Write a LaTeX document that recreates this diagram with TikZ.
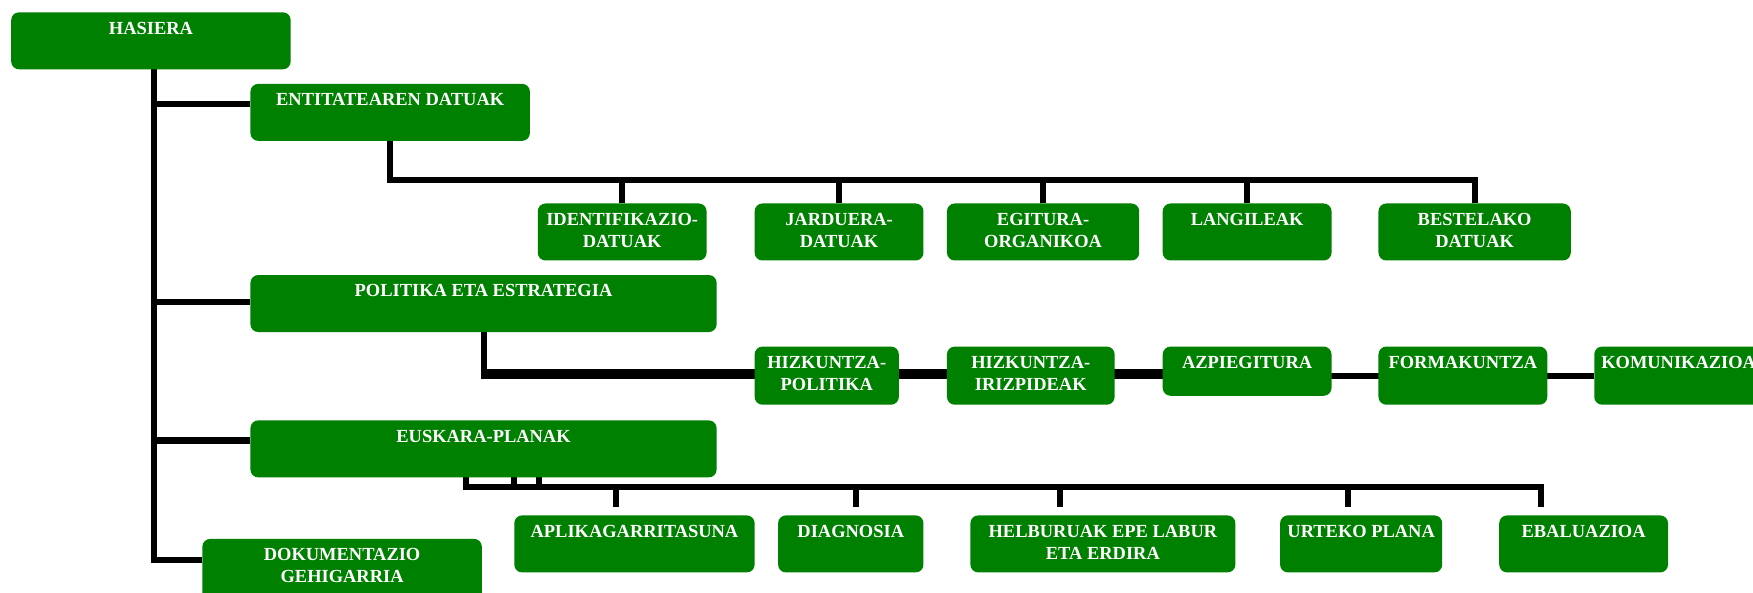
\documentclass[tikz,border=0pt]{standalone}
\usepackage{fontspec}
\setmainfont{Liberation Serif}
\pgfdeclarelayer{bg}
\pgfsetlayers{bg,main}
\definecolor{boxgreen}{RGB}{0,128,0}
\tikzset{
  gbox/.style={draw=none, fill=boxgreen, rounded corners=7pt, inner sep=0pt, outer sep=0pt},
  gtxt/.style={inner sep=0pt, outer sep=0pt, align=center, text=white,
    font=\fontsize{16.5}{20}\selectfont\bfseries},
  ln/.style={draw=black, line width=5.4pt}
}
\newcommand\mybox[6]{%
  \node[gbox, minimum width={(#4-#2)*1pt}, minimum height={(#5-#3)*1pt}, anchor=north west] (#1) at (#2,#3) {};
  \node[gtxt, anchor=north] (#1t) at ([yshift=-8.5pt]#1.north) {#6};
}
\begin{document}
\begin{tikzpicture}[x=1pt,y=-1pt]
\useasboundingbox (0,0) rectangle (1568,530);
\clip (0,0) rectangle (1568,530);
% boxes
\mybox{hasiera}{10}{11}{260}{62}{HASIERA}
\mybox{ent}{224}{75}{474}{126}{ENTITATEAREN DATUAK}
\mybox{ident}{481}{182}{632}{233}{IDENTIFIKAZIO-\\DATUAK}
\mybox{jard}{675}{182}{826}{233}{JARDUERA-\\DATUAK}
\mybox{egit}{847}{182}{1019}{233}{EGITURA-\\ORGANIKOA}
\mybox{lang}{1040}{182}{1191}{233}{LANGILEAK}
\mybox{best}{1233}{182}{1405}{233}{BESTELAKO\\DATUAK}
\mybox{pol}{224}{246}{641}{297}{POLITIKA ETA ESTRATEGIA}
\mybox{hpol}{675}{310}{804}{362}{HIZKUNTZA-\\POLITIKA}
\mybox{hiriz}{847}{310}{997}{362}{HIZKUNTZA-\\IRIZPIDEAK}
\mybox{azp}{1040}{310}{1191}{354}{AZPIEGITURA}
\mybox{form}{1233}{310}{1384}{362}{FORMAKUNTZA}
\mybox{kom}{1426}{310}{1577}{362}{KOMUNIKAZIOA}
\mybox{eusk}{224}{376}{641}{427}{EUSKARA-PLANAK}
\mybox{dok}{181}{482}{431}{545}{DOKUMENTAZIO\\GEHIGARRIA}
\mybox{aplik}{460}{461}{675}{512}{APLIKAGARRITASUNA}
\mybox{diag}{696}{461}{826}{512}{DIAGNOSIA}
\mybox{helb}{868}{461}{1105}{512}{HELBURUAK EPE LABUR\\ETA ERDIRA}
\mybox{urte}{1145}{461}{1290}{512}{URTEKO PLANA}
\mybox{ebal}{1341}{461}{1492}{512}{EBALUAZIOA}
% junction coordinates
\coordinate (tx) at (138,0);
\coordinate (b1) at (224,93);
\coordinate (b2) at (224,270);
\coordinate (b3) at (224,394);
\coordinate (b4) at (181,500.5);
\coordinate (eb) at (0,161);
\coordinate (pa) at (0,333);
\coordinate (pb) at (0,336.5);
\coordinate (ub) at (0,436);
\coordinate (d1) at (551,453.5);
\coordinate (d2) at (766,453.5);
\coordinate (d3) at (948,453.5);
\coordinate (d4) at (1206,453.5);
\coordinate (d5) at (1378,453.5);
\coordinate (u1) at (417,0);
\coordinate (u2) at (460,0);
\coordinate (u3) at (482,0);
\begin{pgfonlayer}{bg}
% trunk
\draw[ln] (hasiera.south -| tx) -- (tx |- b4) -- (b4);
\draw[ln] (tx |- b1) -- (b1);
\draw[ln] (tx |- b2) -- (b2);
\draw[ln] (tx |- b3) -- (b3);
% entitatearen datuak
\draw[ln] (ent.south) -- (ent.south |- eb) -- (best.north |- eb) -- (best.north);
\foreach \n in {ident,jard,egit,lang} \draw[ln] (\n.north) -- (\n.north |- eb);
% politika eta estrategia
\draw[ln] (pol.south) |- (azp.west |- pa);
\draw[ln] (pol.south) |- (kom.west |- pb);
% euskara-planak
\draw[ln] (eusk.south -| u1) -- (u1 |- ub) -- (d5 |- ub) -- (d5);
\draw[ln] (eusk.south -| u2) -- (u2 |- ub);
\draw[ln] (eusk.south -| u3) -- (u3 |- ub);
\foreach \d in {d1,d2,d3,d4} \draw[ln] (\d |- ub) -- (\d);
\end{pgfonlayer}
\end{tikzpicture}
\end{document}
